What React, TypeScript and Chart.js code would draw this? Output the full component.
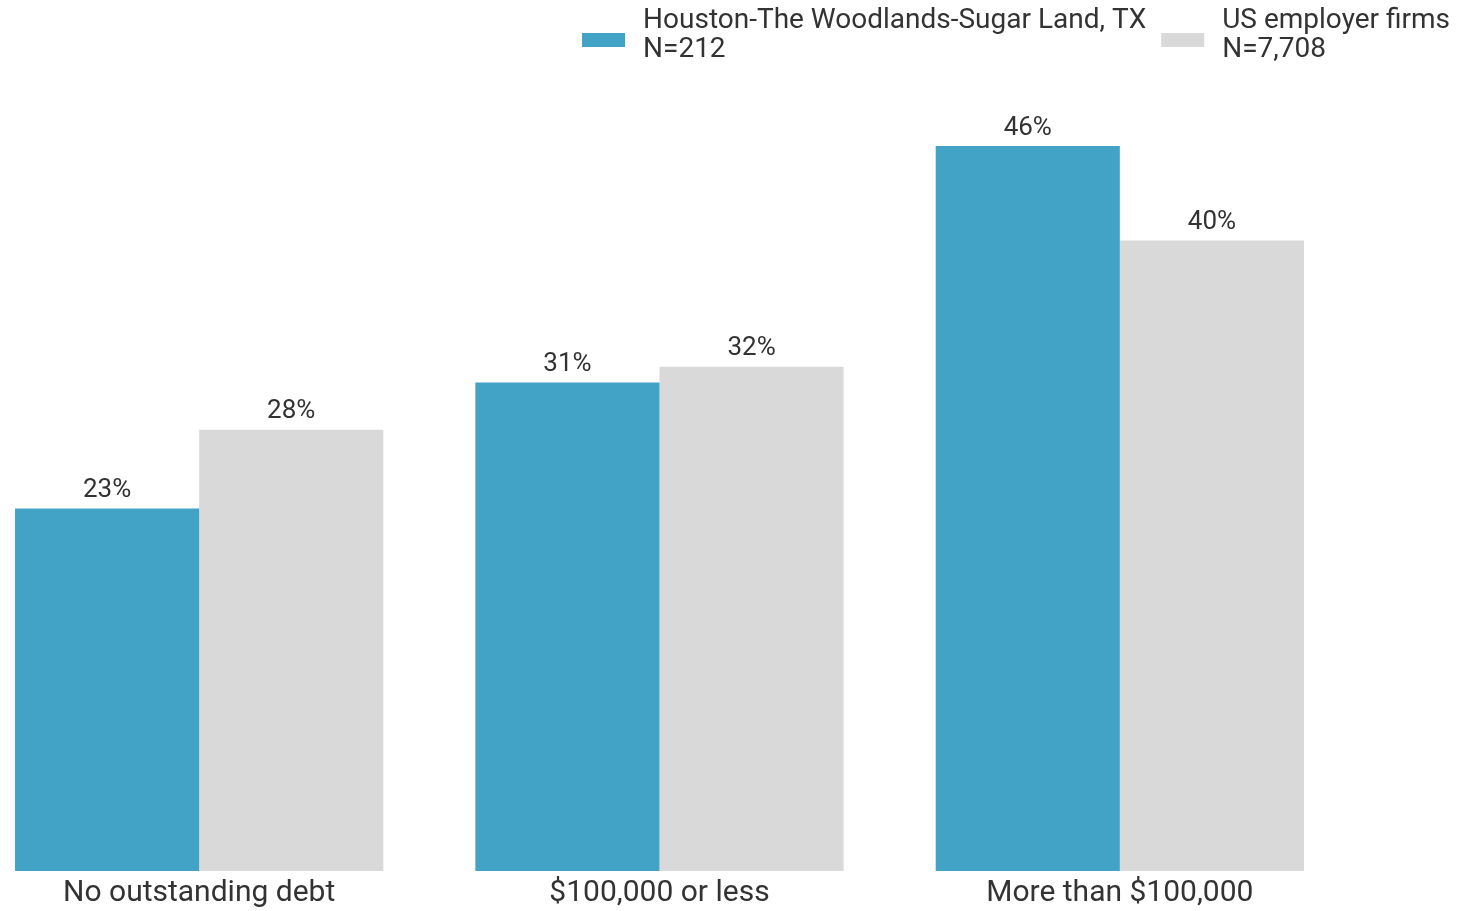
import React, { useEffect, useRef } from "react";
import { Chart, registerables } from "chart.js";

Chart.register(...registerables);

const categories = ["No outstanding debt", "$100,000 or less", "More than $100,000"];
const seriesNames = [
  ["Houston-The Woodlands-Sugar Land, TX", "N=212"],
  ["US employer firms", "N=7,708"],
];
const houstonValues = [23, 31, 46];
const usValues = [28, 32, 40];
const colors = ["#42A3C7", "#D9D9D9"];

const dataLabelPlugin = {
  id: "dataLabels",
  afterDatasetsDraw(chart: any) {
    const ctx = chart.ctx;
    ctx.save();
    ctx.font = "26px Roboto";
    ctx.fillStyle = "#333333";
    ctx.textAlign = "center";
    ctx.textBaseline = "bottom";
    chart.data.datasets.forEach((ds: any, i: number) => {
      const meta = chart.getDatasetMeta(i);
      meta.data.forEach((el: any, j: number) => {
        ctx.fillText(ds.data[j] + "%", el.x, el.y - 5);
      });
    });
    ctx.restore();
  },
};

// Custom two-line legend, right aligned at the top of the canvas
const legendPlugin = {
  id: "twoLineLegend",
  afterDraw(chart: any) {
    const ctx = chart.ctx;
    ctx.save();
    ctx.font = "28px Roboto";
    ctx.textBaseline = "middle";
    ctx.textAlign = "left";
    const right = chart.width - 10;
    const boxW = 43;
    const boxH = 14;
    const gapBoxText = 18;
    const gapItems = 15;
    const line1 = 21;
    const line2 = 50;
    const items = chart.data.datasets.map((ds: any, i: number) => {
      const lines: string[] = seriesNames[i];
      const w = Math.max(...lines.map((l) => ctx.measureText(l).width));
      return { lines, w, color: ds.backgroundColor };
    });
    const total = items.reduce((s: number, it: any) => s + boxW + gapBoxText + it.w, 0) + gapItems * (items.length - 1);
    let x = right - total;
    items.forEach((it: any) => {
      ctx.fillStyle = it.color;
      ctx.fillRect(x, 33, boxW, boxH);
      ctx.fillStyle = "#333333";
      ctx.fillText(it.lines[0], x + boxW + gapBoxText, line1);
      ctx.fillText(it.lines[1], x + boxW + gapBoxText, line2);
      x += boxW + gapBoxText + it.w + gapItems;
    });
    ctx.restore();
  },
};

export default function App() {
  const ref = useRef<HTMLCanvasElement>(null);
  useEffect(() => {
    if (!ref.current) return;
    const chart = new Chart(ref.current, {
      type: "bar",
      data: {
        labels: categories,
        datasets: [
          { label: seriesNames[0].join(" "), data: houstonValues, backgroundColor: colors[0], borderWidth: 0 },
          { label: seriesNames[1].join(" "), data: usValues, backgroundColor: colors[1], borderWidth: 0 },
        ],
      },
      options: {
        animation: false,
        responsive: false,
        maintainAspectRatio: false,
        layout: { padding: { left: 0, right: 110, top: 83, bottom: 1 } },
        datasets: { bar: { categoryPercentage: 0.8, barPercentage: 1.0 } },
        plugins: {
          tooltip: { enabled: false },
          legend: { display: false },
        },
        scales: {
          x: {
            grid: { display: false, drawTicks: false },
            border: { display: false },
            ticks: { color: "#333333", font: { family: "Roboto", size: 30 }, padding: 4 },
          },
          y: {
            display: false,
            min: 0,
            max: 50,
          },
        },
      },
      plugins: [dataLabelPlugin, legendPlugin],
    });
    return () => chart.destroy();
  }, []);
  return (
    <div style={{ position: "absolute", left: -31, top: 0, width: 1491, height: 916, overflow: "hidden" }}>
      <canvas ref={ref} width={1491} height={916} style={{ display: "block" }} />
    </div>
  );
}
